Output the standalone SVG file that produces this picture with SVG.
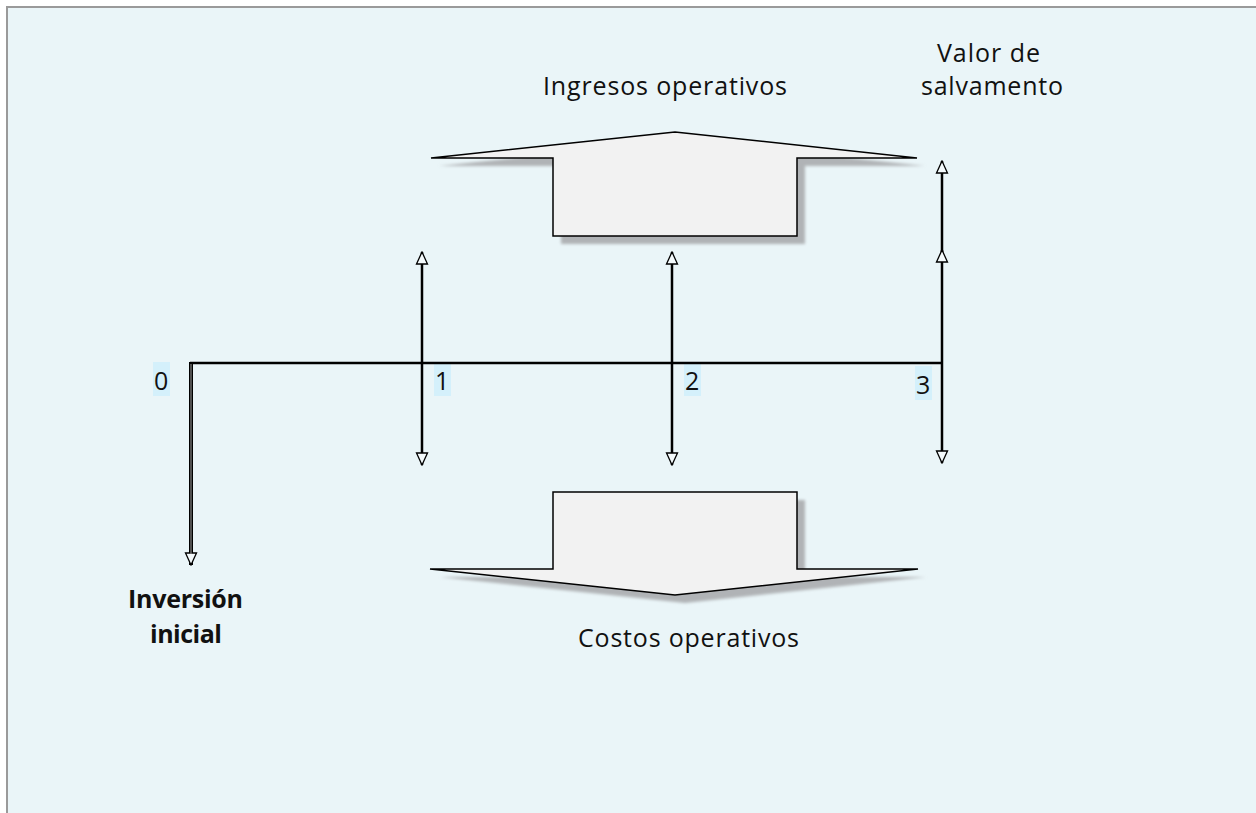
<svg xmlns="http://www.w3.org/2000/svg" width="1256" height="813" viewBox="0 0 1256 813">
<style>
.t{font-family:"Open Sans","Liberation Sans",sans-serif;font-size:25px;fill:#111}
.b{font-weight:bold}
.ln{stroke:#000;stroke-width:2.5;fill:none}
.big{fill:#F2F2F2;stroke:#000;stroke-width:1.5;stroke-linejoin:miter}
.sh{fill:#B0B3B6}
.lb{fill:#D4F0FB}
</style>
<defs>
<marker id="ah" viewBox="0 0 14 14" refX="13" refY="7" markerWidth="14" markerHeight="14" markerUnits="userSpaceOnUse" orient="auto-start-reverse">
<path d="M1,1.5 L13,7 L1,12.5 Z" fill="#F4FAFC" stroke="#000" stroke-width="1.3"/>
</marker>
<filter id="blur" x="-5%" y="-20%" width="110%" height="140%"><feGaussianBlur stdDeviation="1.5"/></filter>
</defs>
<rect x="7" y="7" width="1254" height="812" fill="#EAF5F8" stroke="#9A9A9A" stroke-width="2"/>

<g id="ingresos">
<polygon class="sh" filter="url(#blur)" points="439,166 683,140 925,166 805,166 805,244 561,244 561,166"/>
<polygon class="big" points="431,158 675,132 917,158 797,158 797,236 553,236 553,158"/>
<text class="t" x="543" y="95" textLength="244" lengthAdjust="spacing">Ingresos operativos</text>
</g>

<g id="costos">
<polygon class="sh" filter="url(#blur)" points="563,500 805,500 805,577 926,577 685,603 440,577 563,577"/>
<polygon class="big" points="553,492 797,492 797,569 918,569 675,595 430,569 553,569"/>
<text class="t" x="578" y="647" textLength="221" lengthAdjust="spacing">Costos operativos</text>
</g>

<g id="salvamento">
<text class="t" x="937" y="62" textLength="103" lengthAdjust="spacing">Valor de</text>
<text class="t" x="921" y="95" textLength="142" lengthAdjust="spacing">salvamento</text>
</g>

<g id="inversion">
<text class="t b" x="128" y="608" textLength="115" lengthAdjust="spacing">Inversión</text>
<text class="t b" x="150" y="643" textLength="72" lengthAdjust="spacing">inicial</text>
</g>

<g id="labels">
<rect class="lb" x="153" y="362" width="17" height="34"/>
<text class="t" x="154" y="390">0</text>
<rect class="lb" x="434" y="362" width="17" height="34"/>
<text class="t" x="435" y="390">1</text>
<rect class="lb" x="684" y="362" width="17" height="34"/>
<text class="t" x="685" y="390">2</text>
<rect class="lb" x="915" y="366" width="17" height="34"/>
<text class="t" x="916" y="394">3</text>
</g>

<g id="connectors">
<line class="ln" x1="190" y1="363" x2="942" y2="363"/>
<line x1="191" y1="362" x2="191" y2="565" stroke="#000" stroke-width="4" marker-end="url(#ah)"/>
<line x1="191" y1="364" x2="191" y2="554" stroke="#888" stroke-width="1.2"/>
<line class="ln" x1="422" y1="252" x2="422" y2="465" marker-start="url(#ah)" marker-end="url(#ah)"/>
<line class="ln" x1="672" y1="252" x2="672" y2="465" marker-start="url(#ah)" marker-end="url(#ah)"/>
<line class="ln" x1="942" y1="363" x2="942" y2="463" marker-end="url(#ah)"/>
<line class="ln" x1="942" y1="363" x2="942" y2="250" stroke="#333" marker-end="url(#ah)"/>
<line class="ln" x1="942" y1="252" x2="942" y2="161" marker-end="url(#ah)"/>
</g>
</svg>
